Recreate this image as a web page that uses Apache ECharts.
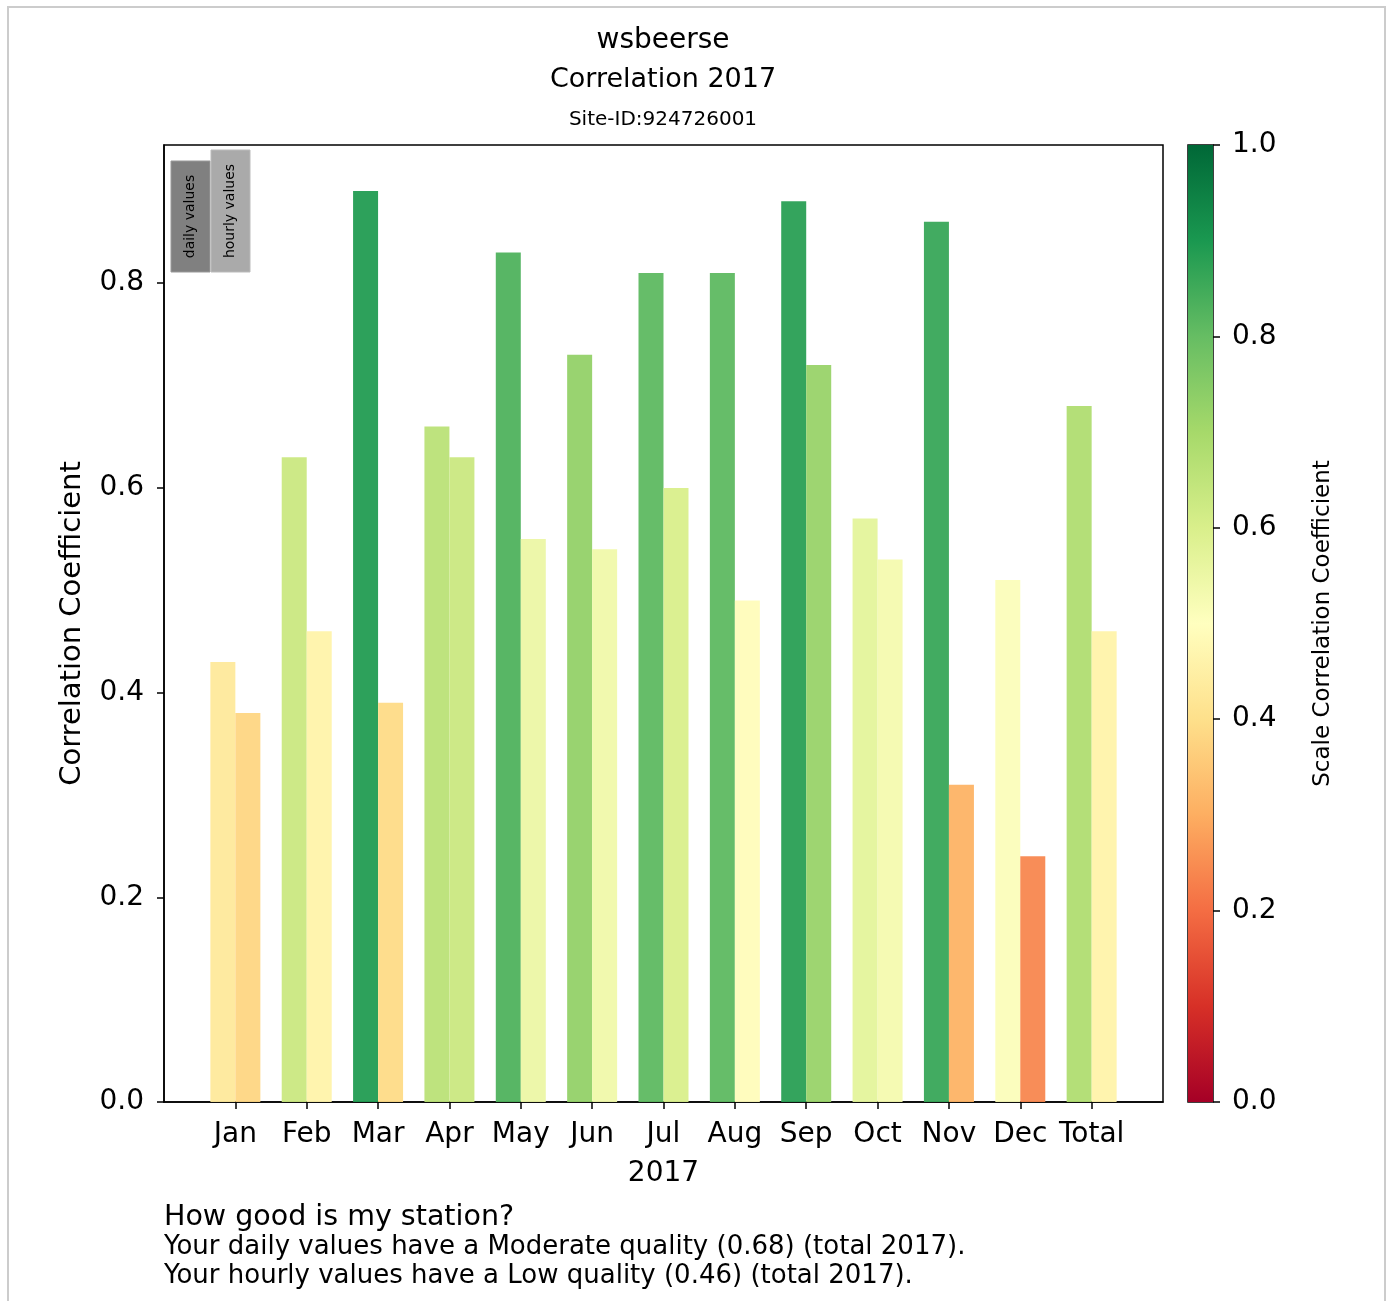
<!DOCTYPE html>
<html>
<head>
<meta charset="utf-8">
<script src="https://cdn.jsdelivr.net/npm/echarts@6/dist/echarts.min.js"></script>
<style>
html,body{margin:0;padding:0;background:#fff;}
#chart{width:1389px;height:1301px;}
</style>
</head>
<body>
<div id="chart"></div>
<script>
// ---- data ----
var categories = ['Jan','Feb','Mar','Apr','May','Jun','Jul','Aug','Sep','Oct','Nov','Dec','Total'];
var dailyValues  = [0.43,0.63,0.89,0.66,0.83,0.73,0.81,0.81,0.88,0.57,0.86,0.51,0.68];
var hourlyValues = [0.38,0.46,0.39,0.63,0.55,0.54,0.60,0.49,0.72,0.53,0.31,0.24,0.46];
var yTicks = [0, 0.2, 0.4, 0.6, 0.8];
var colorbarTicks = [0, 0.2, 0.4, 0.6, 0.8, 1.0];
var rdylgn = ['#a50026','#d73027','#f46d43','#fdae61','#fee08b','#ffffbf','#d9ef8b','#a6d96a','#66bd63','#1a9850','#006837'];

function hexToRgb(h){return [parseInt(h.substr(1,2),16),parseInt(h.substr(3,2),16),parseInt(h.substr(5,2),16)];}
function cmap(v){
  v = Math.max(0, Math.min(1, v));
  var p = v * (rdylgn.length - 1);
  var i = Math.min(Math.floor(p), rdylgn.length - 2);
  var f = p - i;
  var a = hexToRgb(rdylgn[i]), b = hexToRgb(rdylgn[i+1]);
  var c = a.map(function(x,k){return Math.round(x + (b[k]-x)*f);});
  return 'rgb(' + c.join(',') + ')';
}

var axisCats = [''].concat(categories, ['']);
function padded(arr){
  return [null].concat(arr.map(function(v){return {value:v, itemStyle:{color:cmap(v)}};}), [null]);
}
var showIdx = function(i){ return i > 0 && i < axisCats.length - 1; };

var FONT = 'DejaVu Sans';
var chart = echarts.init(document.getElementById('chart'), null, {renderer:'canvas'});
var gradStops = rdylgn.map(function(c,i){return {offset:i/(rdylgn.length-1), color:c};});

var option = {
  backgroundColor:'#fff',
  animation:false,
  textStyle:{fontFamily:FONT},
  grid:[
    {left:164, top:145, width:999, height:957, show:true, borderColor:'#000', borderWidth:1.5, backgroundColor:'transparent'},
    {left:1188, top:145, width:25, height:957, show:true, borderColor:'#000', borderWidth:1.5, backgroundColor:'transparent'}
  ],
  xAxis:[
    {type:'category', gridIndex:0, data:axisCats, boundaryGap:false,
     axisLine:{show:true, lineStyle:{color:'#000', width:1.5}},
     axisTick:{show:true, length:7, interval:function(i){return showIdx(i);}, lineStyle:{color:'#000', width:1.5}},
     axisLabel:{interval:function(i){return showIdx(i);}, color:'#000', fontSize:28, fontFamily:FONT, margin:19},
     name:'2017', nameLocation:'middle', nameGap:58, nameTextStyle:{color:'#000', fontSize:28, fontFamily:FONT},
     splitLine:{show:false}},
    {type:'category', gridIndex:1, data:['cb'], show:false}
  ],
  yAxis:[
    {type:'value', gridIndex:0, min:0, max:0.935,
     axisLine:{show:true, lineStyle:{color:'#000', width:1.5}},
     axisTick:{show:true, length:7, customValues:yTicks, lineStyle:{color:'#000', width:1.5}},
     axisLabel:{customValues:yTicks, formatter:function(v){return v.toFixed(1);}, color:'#000', fontSize:28, fontFamily:FONT, margin:20},
     splitLine:{show:false},
     name:'Correlation Coefficient', nameLocation:'middle', nameGap:77, nameRotate:90,
     nameTextStyle:{color:'#000', fontSize:29, fontFamily:FONT}},
    {type:'value', gridIndex:1, min:0, max:1, position:'right',
     axisLine:{show:false},
     axisTick:{show:true, length:7, customValues:colorbarTicks, lineStyle:{color:'#000', width:1.5}},
     axisLabel:{customValues:colorbarTicks, formatter:function(v){return v.toFixed(1);}, color:'#000', fontSize:28, fontFamily:FONT, margin:19},
     splitLine:{show:false},
     name:'Scale Correlation Coefficient', nameLocation:'middle', nameGap:99, nameRotate:90,
     nameTextStyle:{color:'#000', fontSize:23, fontFamily:FONT}}
  ],
  series:[
    {name:'daily values', type:'bar', xAxisIndex:0, yAxisIndex:0, data:padded(dailyValues), barWidth:25, barGap:'0%', itemStyle:{opacity:0.95}},
    {name:'hourly values', type:'bar', xAxisIndex:0, yAxisIndex:0, data:padded(hourlyValues), barWidth:25, barGap:'0%', itemStyle:{opacity:0.95}},
    {name:'colorbar', type:'bar', xAxisIndex:1, yAxisIndex:1, data:[1], barWidth:'100%', silent:true,
     itemStyle:{color:new echarts.graphic.LinearGradient(0,1,0,0,gradStops)}}
  ],
  graphic:[
    {type:'rect', shape:{x:8, y:7, width:1377, height:1310}, style:{fill:'none', stroke:'#cccccc', lineWidth:2}, silent:true, z:-1},
    {type:'text', x:663, y:41, style:{text:'wsbeerse', font:'28px "DejaVu Sans"', fill:'#000', textAlign:'center', textVerticalAlign:'middle'}},
    {type:'text', x:663, y:80, style:{text:'Correlation 2017', font:'27px "DejaVu Sans"', fill:'#000', textAlign:'center', textVerticalAlign:'middle'}},
    {type:'text', x:663, y:120, style:{text:'Site-ID:924726001', font:'20px "DejaVu Sans"', fill:'#000', textAlign:'center', textVerticalAlign:'middle'}},
    {type:'rect', shape:{x:171, y:161, width:39, height:111}, style:{fill:'#808080', stroke:'#999', lineWidth:1}, z:10},
    {type:'rect', shape:{x:211, y:150, width:39, height:122}, style:{fill:'#aaaaaa', stroke:'#bbb', lineWidth:1}, z:10},
    {type:'text', x:190.5, y:216.5, rotation:Math.PI/2, style:{text:'daily values', font:'14px "DejaVu Sans"', fill:'#000', textAlign:'center', textVerticalAlign:'middle'}, z:11},
    {type:'text', x:230.5, y:211, rotation:Math.PI/2, style:{text:'hourly values', font:'14px "DejaVu Sans"', fill:'#000', textAlign:'center', textVerticalAlign:'middle'}, z:11},
    {type:'text', x:164, y:1218, style:{text:'How good is my station?', font:'28.5px "DejaVu Sans"', fill:'#000', textAlign:'left', textVerticalAlign:'middle'}},
    {type:'text', x:164, y:1247, style:{text:'Your daily values have a Moderate quality (0.68) (total 2017).', font:'26px "DejaVu Sans"', fill:'#000', textAlign:'left', textVerticalAlign:'middle'}},
    {type:'text', x:164, y:1276, style:{text:'Your hourly values have a Low quality (0.46) (total 2017).', font:'26px "DejaVu Sans"', fill:'#000', textAlign:'left', textVerticalAlign:'middle'}}
  ]
};
chart.setOption(option);
</script>
</body>
</html>
